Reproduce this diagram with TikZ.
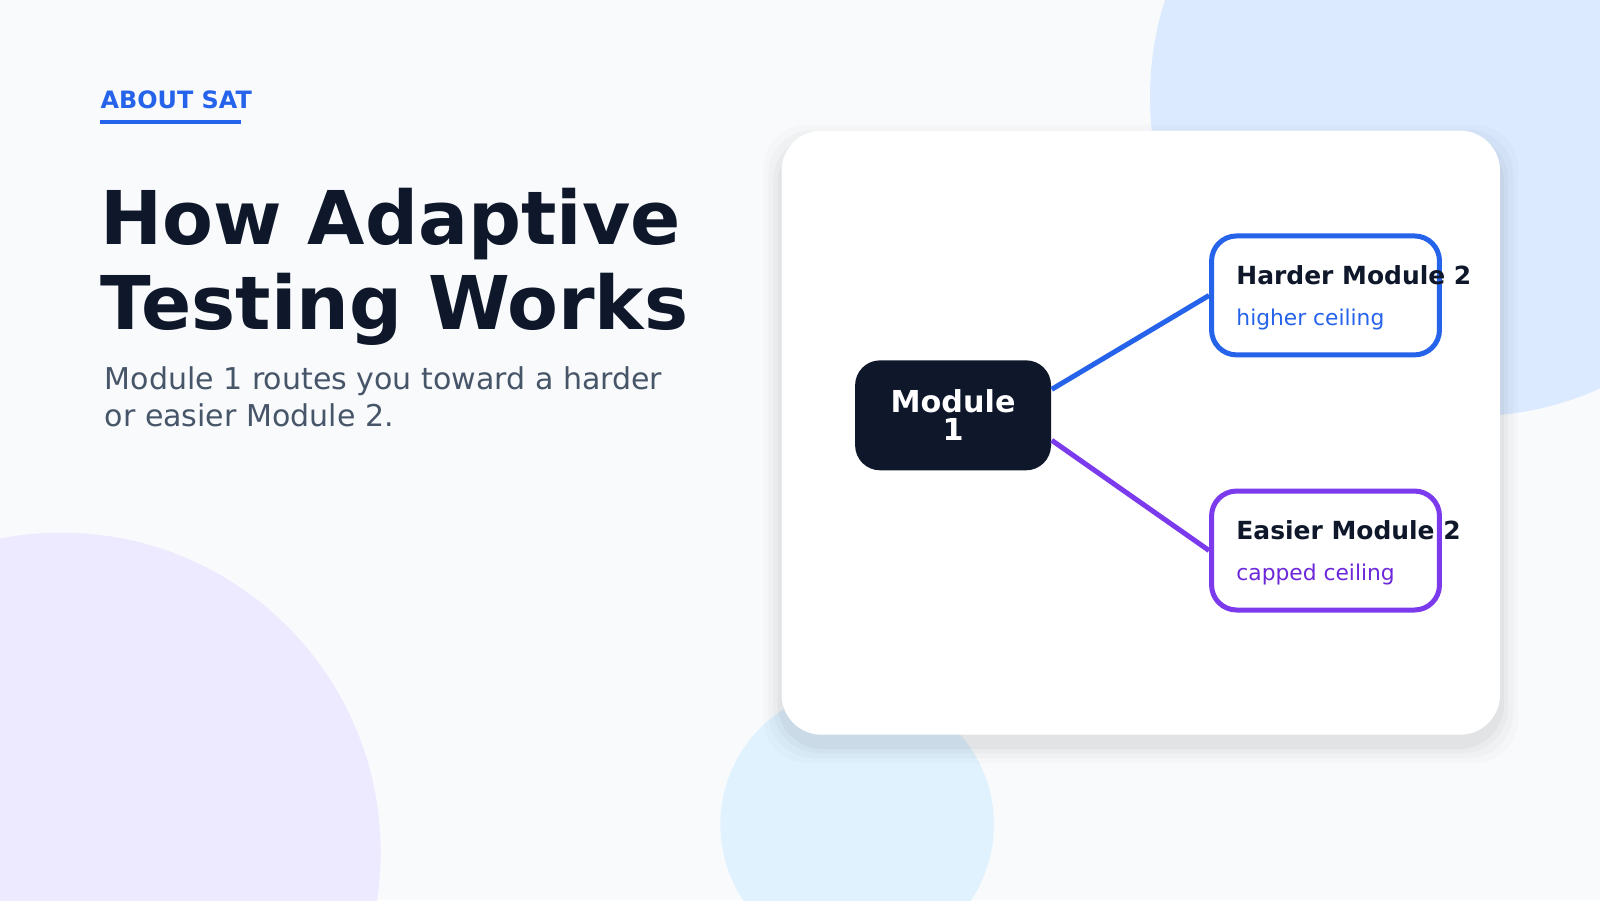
\documentclass[tikz,border=0pt]{standalone}
\usepackage{fontspec}
\setmainfont{DejaVu Sans}
\usetikzlibrary{positioning}
\definecolor{bgpage}{HTML}{F8FAFC}
\definecolor{ink}{HTML}{0F172A}
\definecolor{slate}{HTML}{475569}
\definecolor{blueacc}{HTML}{2563EB}
\definecolor{purpacc}{HTML}{7C3AED}
\definecolor{purptxt}{HTML}{6D28D9}
\definecolor{blobblue}{HTML}{DBEAFE}
\definecolor{bloblav}{HTML}{EDE9FE}
\definecolor{blobsky}{HTML}{E0F2FE}
\tikzset{
  txt/.style={anchor=base west, inner sep=0pt},
  branch/.style={line width=0.05cm, rounded corners=0.25cm, fill=white, minimum width=2.28cm, minimum height=1.19cm, inner sep=0pt},
  link/.style={line width=0.05cm}
}
\begin{document}
\begin{tikzpicture}[x=0.010204cm,y=-0.010204cm]
    \fill [bgpage] (0,0) rectangle (1568,882);
    \useasboundingbox (0,0) rectangle (1568,882);

    % soft circles behind
    \fill [blobblue] (1440,95) circle(313);
    \fill [bloblav] (60,835) circle(313);
    \fill [blobsky] (840,808) circle(134);

    % card with a faint shadow
    \foreach \s/\o in {18/0.015,13/0.02,8/0.025,4/0.03}
        \fill [black, opacity=\o, rounded corners=0.45cm] (766-\s,140-\s) rectangle (1470+\s,730+\s);
    \fill [white, rounded corners=0.4cm] (766,128) rectangle (1470,720);

    % heading
    \node [txt, blueacc, font=\bfseries\fontsize{6.8}{8}\selectfont] (kicker) at (98,106) {ABOUT SAT};
    \draw [blueacc, line width=0.04cm] (98,120) -- (236,120);
    \node [txt, ink, font=\bfseries\fontsize{21.1}{25}\selectfont] (title1) at (98,240) {How Adaptive};
    \node [txt, ink, font=\bfseries\fontsize{21.1}{25}\selectfont] (title2) at (98,323) {Testing Works};
    \node [txt, slate, font=\fontsize{8.55}{10}\selectfont] (sub1) at (102,382) {Module 1 routes you toward a harder};
    \node [txt, slate, font=\fontsize{8.55}{10}\selectfont] (sub2) at (102,418) {or easier Module 2.};

    % diagram
    \node [fill=ink, rounded corners=0.25cm, minimum width=1.96cm, minimum height=1.1cm, inner sep=0pt,
           text=white, align=center, font=\bfseries\fontsize{8.6}{8}\selectfont] (m1) at (934,407) {Module\\1};
    \node [branch, draw=blueacc] (hard) at (1299,289.5) {};
    \node [branch, draw=purpacc] (easy) at (1299,539.5) {};

    \node [txt, ink, font=\bfseries\fontsize{7.1}{8}\selectfont] (hardname) at (1211,279) {Harder Module 2};
    \node [txt, blueacc, font=\fontsize{6.2}{8}\selectfont] (hardnote) at (1211,319) {higher ceiling};
    \node [txt, ink, font=\bfseries\fontsize{7.1}{8}\selectfont] (easyname) at (1211,529) {Easier Module 2};
    \node [txt, purptxt, font=\fontsize{6.2}{8}\selectfont] (easynote) at (1211,569) {capped ceiling};

    \draw [link, blueacc] ([yshift=0.26cm]m1.east) -- (hard.west);
    \draw [link, purpacc] ([yshift=-0.25cm]m1.east) -- (easy.west);
\end{tikzpicture}
\end{document}
